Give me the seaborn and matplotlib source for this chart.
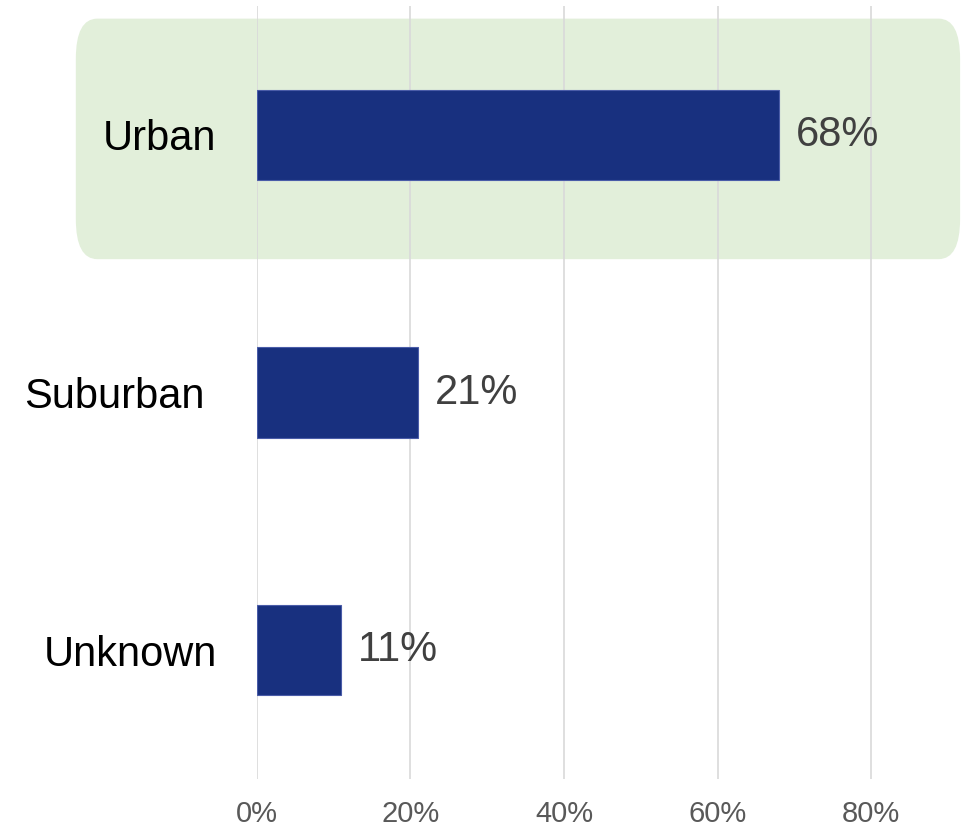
import matplotlib
matplotlib.use("Agg")
import matplotlib.pyplot as plt
from matplotlib.patches import FancyBboxPatch
from matplotlib.ticker import PercentFormatter
import seaborn as sns
import pandas as pd

# data
categories = ["Urban", "Suburban", "Unknown"]
shares = [0.68, 0.21, 0.11]
x_ticks = [0, 0.2, 0.4, 0.6, 0.8]

bar_color = "#18307f"

sns.set_style("white")
plt.rcParams["font.family"] = ["Liberation Sans", "DejaVu Sans"]

df = pd.DataFrame({"area": categories, "share": shares})

fig = plt.figure(figsize=(9.61, 8.33), dpi=100)
ax = fig.add_axes([0.2674, 0.0648, 0.7189, 0.928])

sns.barplot(data=df, x="share", y="area", orient="h", color=bar_color,
            saturation=1, width=0.35, edgecolor="#4a5ca8", linewidth=0.8,
            ax=ax, zorder=3)

ax.set_xlim(0, 0.9)
ax.set_ylim(2.5, -0.5)
ax.set_xticks(x_ticks)
ax.xaxis.set_major_formatter(PercentFormatter(xmax=1, decimals=0))
ax.grid(axis="x", color="#d9d9d9", linewidth=1.2, zorder=1)
ax.set_axisbelow(True)
sns.despine(ax=ax, left=True, bottom=True)
ax.set_xlabel("")
ax.set_ylabel("")
ax.tick_params(axis="x", length=0, pad=15, labelsize=21, labelcolor="#595959")
ax.tick_params(axis="y", length=0, pad=29, labelsize=30, labelcolor="black")

ylabs = ax.get_yticklabels()
ylabs[1].set_x(-0.0174)

# highlight the urban row
box = FancyBboxPatch((-0.236, -0.451), 1.152, 0.9335,
                     boxstyle="round,pad=0,rounding_size=0.028",
                     mutation_aspect=5.6, facecolor="#e2efda",
                     edgecolor="none", clip_on=False, zorder=0.5)
ax.add_patch(box)

ax.bar_label(ax.containers[0], labels=[f"{v:.0%}" for v in shares],
             padding=12, fontsize=30, color="#404040")

fig.savefig("out.png", dpi=100)
